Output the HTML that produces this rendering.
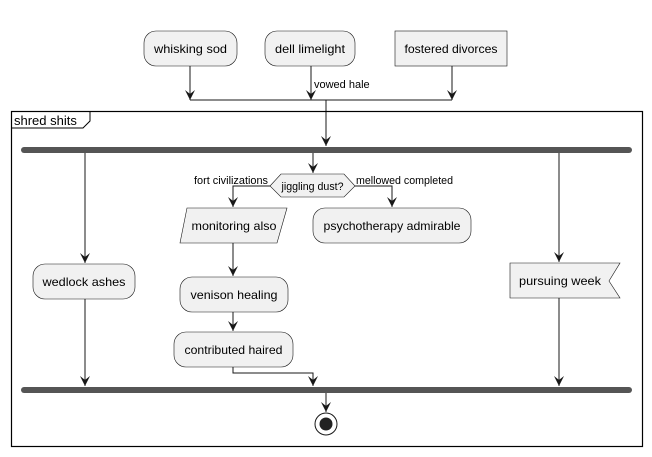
<!DOCTYPE html>
<html><head><meta charset="utf-8"><style>body{margin:0;background:#fff}svg{display:block}text{font-family:"Liberation Sans",sans-serif;fill:#000}</style></head><body>
<svg width="652" height="457" viewBox="0 0 652 457" xmlns="http://www.w3.org/2000/svg">
<defs><marker id="a" viewBox="0 0 10 10" refX="10" refY="5" markerWidth="10" markerHeight="10" orient="auto" markerUnits="userSpaceOnUse"><path d="M0,0 L10,5 L0,10 L4,5 Z" fill="#181818"/></marker></defs>
<g fill="#f1f1f1" stroke="#181818" stroke-width="0.6">
<rect x="144" y="31" width="93" height="35" rx="12"/>
<rect x="265" y="31" width="90" height="35" rx="12"/>
<rect x="395" y="31" width="112" height="35"/>
</g>
<g font-size="12" text-anchor="middle">
<text x="190.5" y="53" textLength="73" lengthAdjust="spacingAndGlyphs">whisking sod</text>
<text x="310" y="53" textLength="70" lengthAdjust="spacingAndGlyphs">dell limelight</text>
<text x="451" y="53" textLength="93" lengthAdjust="spacingAndGlyphs">fostered divorces</text>
</g>
<g stroke="#181818" fill="none" stroke-width="1">
<line x1="190" y1="66" x2="190" y2="100" marker-end="url(#a)"/>
<line x1="311" y1="66" x2="311" y2="100" marker-end="url(#a)"/>
<line x1="452" y1="66" x2="452" y2="100" marker-end="url(#a)"/>
<line x1="190" y1="100" x2="452" y2="100"/>
<line x1="326" y1="100" x2="326" y2="146" marker-end="url(#a)"/>
</g>
<text x="314" y="88" font-size="11">vowed hale</text>
<rect x="11.5" y="111.5" width="631" height="335" fill="none" stroke="#000" stroke-width="1.2"/>
<path d="M11.5,128 H83 L90,121 V111.5" fill="none" stroke="#000" stroke-width="1"/>
<text x="14" y="125" font-size="13">shred shits</text>
<rect x="21" y="147" width="611" height="6" rx="3" fill="#555"/>
<rect x="21" y="387" width="611" height="6" rx="3" fill="#555"/>
<g stroke="#181818" fill="none" stroke-width="1">
<line x1="85" y1="153" x2="85" y2="263" marker-end="url(#a)"/>
<line x1="85" y1="299" x2="85" y2="386" marker-end="url(#a)"/>
<line x1="313" y1="153" x2="313" y2="173" marker-end="url(#a)"/>
<polyline points="270,186 233,186 233,207" marker-end="url(#a)"/>
<polyline points="355,186 392,186 392,207" marker-end="url(#a)"/>
<line x1="233" y1="243" x2="233" y2="276" marker-end="url(#a)"/>
<line x1="233" y1="312" x2="233" y2="331" marker-end="url(#a)"/>
<polyline points="233,367 233,373 313,373 313,386" marker-end="url(#a)"/>
<line x1="559" y1="153" x2="559" y2="262" marker-end="url(#a)"/>
<line x1="559" y1="298" x2="559" y2="386" marker-end="url(#a)"/>
<line x1="326" y1="393" x2="326" y2="412" marker-end="url(#a)"/>
</g>
<g fill="#f1f1f1" stroke="#181818" stroke-width="0.6">
<polygon points="270,186 281,174 344,174 355,186 344,197 281,197"/>
<polygon points="187,208 287,208 277,243 180,243"/>
<rect x="313" y="208" width="158" height="35" rx="12"/>
<rect x="180" y="277" width="108" height="35" rx="12"/>
<rect x="174" y="332" width="119" height="35" rx="12"/>
<rect x="33" y="264" width="102" height="35" rx="12"/>
<polygon points="510,263 620,263 609,281 620,298 510,298"/>
</g>
<text x="312.5" y="190" font-size="11" text-anchor="middle" textLength="62" lengthAdjust="spacingAndGlyphs">jiggling dust?</text>
<text x="268" y="184" font-size="11" text-anchor="end" textLength="74" lengthAdjust="spacingAndGlyphs">fort civilizations</text>
<text x="356" y="184" font-size="11" textLength="97" lengthAdjust="spacingAndGlyphs">mellowed completed</text>
<g font-size="12" text-anchor="middle">
<text x="234" y="230" textLength="85" lengthAdjust="spacingAndGlyphs">monitoring also</text>
<text x="392" y="230" textLength="137" lengthAdjust="spacingAndGlyphs">psychotherapy admirable</text>
<text x="234" y="299" textLength="87" lengthAdjust="spacingAndGlyphs">venison healing</text>
<text x="233.5" y="354" textLength="98" lengthAdjust="spacingAndGlyphs">contributed haired</text>
<text x="84" y="286" textLength="83" lengthAdjust="spacingAndGlyphs">wedlock ashes</text>
<text x="560" y="285" textLength="82" lengthAdjust="spacingAndGlyphs">pursuing week</text>
</g>
<circle cx="326" cy="424" r="11" fill="none" stroke="#181818" stroke-width="1"/>
<circle cx="326" cy="424" r="6.5" fill="#222"/>
</svg>
</body></html>
